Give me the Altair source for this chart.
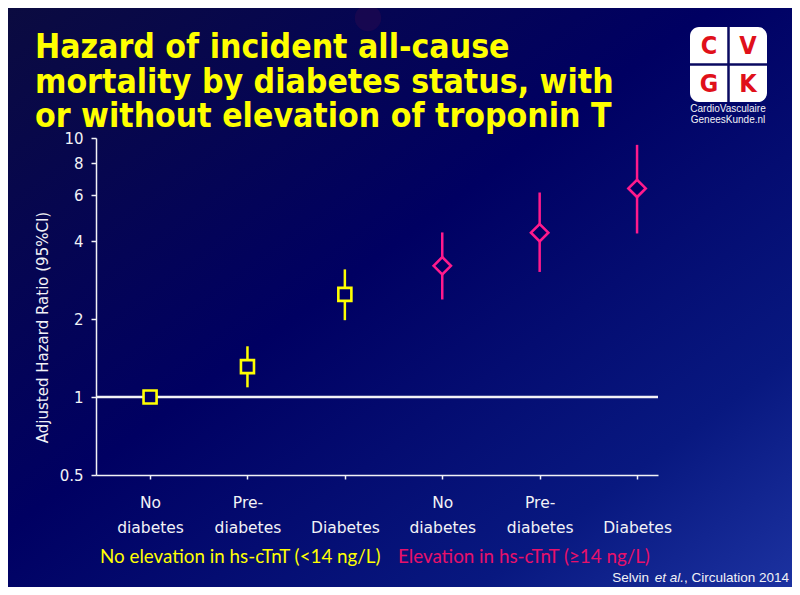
import json
import altair as alt
import pandas as pd

# ---------------- data ----------------
categories = ["No diabetes", "Pre-diabetes", "Diabetes",
              "No diabetes", "Pre-diabetes", "Diabetes"]
label_lines = [["No", "diabetes"], ["Pre-", "diabetes"], ["", "Diabetes"],
               ["No", "diabetes"], ["Pre-", "diabetes"], ["", "Diabetes"]]
groups = ["No elevation"] * 3 + ["Elevation"] * 3
position = [1, 2, 3, 4, 5, 6]
hazard_ratio = [1.0, 1.31, 2.49, 3.21, 4.31, 6.39]
ci_low = [1.0, 1.09, 1.98, 2.38, 3.04, 4.28]
ci_high = [1.0, 1.57, 3.11, 4.32, 6.16, 9.41]
y_ticks = [0.5, 1, 2, 4, 6, 8, 10]
reference_line = [1]

title_lines = ["Hazard of incident all-cause",
               "mortality by diabetes status, with",
               "or without elevation of troponin T"]
y_title = "Adjusted Hazard Ratio (95%CI)"
legend_no = "No elevation in hs-cTnT (<14 ng/L)"
legend_yes = "Elevation in hs-cTnT (\u226514 ng/L)"
citation_parts = ["Selvin", "et al.", ", Circulation 2014"]
logo_letters = ["C", "V", "G", "K"]
logo_lines = ["CardioVasculaire", "GeneesKunde.nl"]

YELLOW = "#ffff00"
PINK = "#ff1a8c"
PINK_TEXT = "#e8106a"
NAVY = "#000064"
WHITE = "#f2f2f6"

df = pd.DataFrame({"category": categories, "group": groups, "pos": position,
                   "hr": hazard_ratio, "lo": ci_low, "hi": ci_high})
ref_df = pd.DataFrame({"v": reference_line})

W, H = 562, 337
PAD = {"left": 88, "top": 130, "right": 134, "bottom": 112}

xscale = alt.Scale(domain=[0.445, 6.215], nice=False, zero=False)
yscale = alt.Scale(type="log", domain=[0.5, 10], nice=False)
label_expr = json.dumps(label_lines) + "[datum.value - 1]"

xaxis = alt.Axis(values=position, labelExpr=label_expr, title=None, grid=False,
                 domainColor=WHITE, domainWidth=1.5, tickColor=WHITE, tickWidth=1.5,
                 tickSize=4, labelColor=WHITE, labelFont="DejaVu Sans", labelFontSize=15.5,
                 labelLineHeight=25, labelPadding=16, labelBaseline="top", zindex=2)
yaxis = alt.Axis(values=y_ticks, format="~g", title=y_title, grid=False,
                 domainColor=WHITE, domainWidth=1.5, tickColor=WHITE, tickWidth=1.5,
                 tickSize=5, labelColor=WHITE, labelFont="DejaVu Sans", labelFontSize=15,
                 labelPadding=8, titleFont="DejaVu Sans", titleFontSize=15,
                 titleFontWeight="normal", titleColor=WHITE, titleX=-54, titleY=189,
                 titleAngle=270, titleAlign="center", titleBaseline="middle", zindex=2)

color_scale = alt.Scale(domain=["No elevation", "Elevation"], range=[YELLOW, PINK])
shape_scale = alt.Scale(domain=["No elevation", "Elevation"], range=["square", "diamond"])
size_scale = alt.Scale(domain=["No elevation", "Elevation"], range=[170, 300])

one = alt.Data(values=[{}])

# background gradient
bg = alt.Chart(one).mark_rect(
    fill=alt.Gradient(gradient="linear", x1=0, y1=0, x2=1, y2=1,
                      stops=[alt.GradientStop(color="#0b0b40", offset=0),
                             alt.GradientStop(color="#000062", offset=0.45),
                             alt.GradientStop(color="#081880", offset=0.8),
                             alt.GradientStop(color="#1c32a0", offset=1)])
).encode(x=alt.value(-PAD["left"]), x2=alt.value(W + PAD["right"]),
         y=alt.value(-PAD["top"]), y2=alt.value(H + PAD["bottom"]))

blob = alt.Chart(one).mark_point(shape="circle", filled=True, fill="#3a0c4e",
                                 opacity=0.35, size=700).encode(
    x=alt.value(272), y=alt.value(-120))

ref = alt.Chart(ref_df).mark_rule(color=WHITE, strokeWidth=2.5).encode(
    y=alt.Y("v:Q", scale=yscale, axis=yaxis))

err = alt.Chart(df).mark_rule(strokeWidth=2.5).encode(
    x=alt.X("pos:Q", scale=xscale, axis=xaxis),
    y=alt.Y("lo:Q", scale=yscale, axis=yaxis),
    y2="hi:Q",
    color=alt.Color("group:N", scale=color_scale, legend=None))

pts = alt.Chart(df).mark_point(filled=True, fill=NAVY, fillOpacity=1, strokeWidth=2.6,
                               opacity=1).encode(
    x=alt.X("pos:Q", scale=xscale, axis=xaxis),
    y=alt.Y("hr:Q", scale=yscale, axis=yaxis),
    stroke=alt.Stroke("group:N", scale=color_scale, legend=None),
    shape=alt.Shape("group:N", scale=shape_scale, legend=None),
    size=alt.Size("group:N", scale=size_scale, legend=None))


def txt(text, x, y, **kw):
    return alt.Chart(one).mark_text(text=text, **kw).encode(x=alt.value(x), y=alt.value(y))


title = txt(title_lines, -61, -80, align="left", baseline="alphabetic",
            font="DejaVu Sans Condensed", fontWeight="bold", fontSize=33.5,
            lineHeight=34.5, color=YELLOW)

leg1 = txt(legend_no, 4, 419, align="left", baseline="middle", font="Lato",
           fontSize=18.8, color=YELLOW)
leg2 = txt(legend_yes, 302, 419, align="left", baseline="middle", font="Lato",
           fontSize=18.8, color=PINK_TEXT)

cit1 = txt(citation_parts[0], 553, 440, align="right", baseline="middle",
           font="Liberation Sans", fontSize=13.5, color=WHITE)
cit2 = txt(citation_parts[1], 588, 440, align="right", baseline="middle",
           font="Liberation Sans", fontSize=13.5, fontStyle="italic", color=WHITE)
cit3 = txt(citation_parts[2], 693, 440, align="right", baseline="middle",
           font="Liberation Sans", fontSize=13.5, color=WHITE)

logo_box = alt.Chart(one).mark_rect(fill="white", cornerRadius=9).encode(
    x=alt.value(594), x2=alt.value(671), y=alt.value(-111), y2=alt.value(-36))
logo_v = alt.Chart(one).mark_rule(color="#0a0a60", strokeWidth=2.5).encode(
    x=alt.value(632.5), y=alt.value(-111), y2=alt.value(-36))
logo_h = alt.Chart(one).mark_rule(color="#0a0a60", strokeWidth=2.5).encode(
    y=alt.value(-73.5), x=alt.value(594), x2=alt.value(671))
logo_txt = []
for i, letter in enumerate(logo_letters):
    lx = 613 if i % 2 == 0 else 652
    ly = -92 if i < 2 else -54
    logo_txt.append(txt(letter, lx, ly, align="center", baseline="middle",
                        font="DejaVu Sans Condensed", fontWeight="bold", fontSize=25,
                        color="#e0101a"))
logo_sub = txt(logo_lines, 632, -29, align="center", baseline="middle",
               font="Liberation Sans", fontSize=10, lineHeight=11, color=WHITE)

chart = alt.layer(bg, blob, ref, err, pts, title, leg1, leg2, cit1, cit2, cit3,
                  logo_box, logo_v, logo_h, *logo_txt, logo_sub).properties(
    width=W, height=H, padding=PAD,
    autosize=alt.AutoSizeParams(type="none"),
    background="#000060",
).configure_view(stroke=None)

chart.save("out.html", embed_options={"renderer": "svg", "actions": False})
